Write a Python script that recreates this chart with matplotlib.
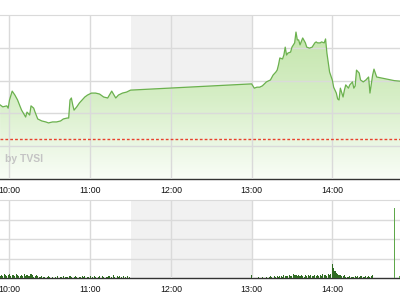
import matplotlib.pyplot as plt
import numpy as np
from matplotlib.colors import LinearSegmentedColormap

plt.rcParams['font.family'] = ['Liberation Sans', 'DejaVu Sans']

# gia chi so theo thoi gian (doc tu hinh)
price_times = ["09:53", "09:55", "09:58", "09:59", "10:00", "10:02", "10:04", "10:06",
               "10:08", "10:09", "10:12", "10:13", "10:15", "10:16", "10:18", "10:19",
               "10:21", "10:24", "10:27", "10:29", "10:32", "10:35", "10:38", "10:40",
               "10:43", "10:44", "10:45", "10:46", "10:47", "10:48", "10:50", "10:52",
               "10:54", "10:56", "10:58", "11:01", "11:04", "11:07", "11:10", "11:13",
               "11:16", "11:19", "11:21", "11:24", "11:27", "11:30",
               "13:00", "13:02", "13:04", "13:06", "13:08", "13:11", "13:14", "13:16",
               "13:18", "13:19", "13:20", "13:21", "13:23", "13:24", "13:25", "13:26",
               "13:27", "13:29", "13:30", "13:32", "13:33", "13:34", "13:35", "13:36",
               "13:38", "13:40", "13:41", "13:43", "13:45", "13:47", "13:48", "13:49",
               "13:51", "13:52", "13:54", "13:55", "13:56", "13:58", "14:00", "14:01",
               "14:03", "14:04", "14:05", "14:06", "14:08", "14:09", "14:10", "14:12",
               "14:13", "14:15", "14:16", "14:17", "14:18", "14:20", "14:21", "14:23",
               "14:25", "14:27", "14:28", "14:30", "14:31", "14:33", "14:46", "14:51"]
price_values = [582.26, 582.20, 582.23, 582.16, 582.41, 582.68, 582.56, 582.41,
                582.20, 582.10, 581.89, 582.04, 581.95, 582.23, 582.16, 582.04,
                581.83, 581.77, 581.74, 581.71, 581.74, 581.74, 581.77, 581.83,
                581.86, 581.86, 582.41, 582.47, 582.26, 582.10, 582.20, 582.32,
                582.41, 582.50, 582.56, 582.62, 582.62, 582.59, 582.50, 582.47,
                582.68, 582.47, 582.56, 582.62, 582.65, 582.71,
                582.90, 582.77, 582.80, 582.80, 582.84, 582.96, 583.02, 583.17,
                583.26, 583.32, 583.48, 583.69, 583.66, 583.78, 584.02, 583.78,
                583.84, 583.87, 584.02, 584.15, 584.48, 584.24, 584.24, 584.09,
                584.30, 584.15, 584.02, 583.99, 584.02, 584.15, 584.18, 584.15,
                584.15, 584.18, 584.15, 584.27, 583.84, 583.26, 583.02, 582.80,
                582.62, 582.44, 582.41, 582.77, 582.50, 582.71, 582.87, 582.77,
                582.87, 582.96, 582.77, 582.84, 583.32, 583.23, 583.02, 582.96,
                583.02, 583.11, 582.62, 583.17, 583.35, 583.11, 583.00, 582.98]
ref_price = 581.22

# khoi luong (nghin cp) moi phut
vol_am_start = "09:53"
vol_am = [50, 75, 50, 100, 75, 50, 75, 100, 50, 75,
          75, 50, 100, 75, 50, 50, 75, 50, 100, 50,
          75, 50, 50, 100, 75, 25, 50, 75, 50, 25,
          25, 50, 25, 25, 12, 25, 50, 25, 12, 25,
          12, 25, 12, 50, 12, 25, 25, 50, 12, 25,
          25, 12, 50, 25, 12, 25, 50, 25, 12, 25,
          25, 50, 25, 50, 12, 25, 25, 50, 12, 25,
          50, 25, 12, 25, 50, 12, 50, 25, 12, 25,
          25, 50, 12, 25, 75, 25, 12, 50, 25, 50,
          25, 12, 50, 25, 12, 50, 25]
vol_pm_start = "13:00"
vol_pm = [75, 12, 12, 12, 12, 25, 12, 12, 25, 12, 12,
          25, 12, 25, 50, 25, 12, 50, 25, 50, 25,
          50, 50, 25, 75, 50, 50, 50, 75, 50, 50,
          100, 75, 75, 50, 75, 50, 75, 50, 25, 75,
          50, 75, 50, 75, 50, 50, 75, 50, 75, 50,
          75, 50, 100, 75, 75, 50, 100, 75, 100,
          360, 250, 175, 125, 100, 75, 75, 50, 50, 75, 25,
          25, 25, 50, 25, 25, 25, 50, 25, 50, 25,
          50, 50, 25, 25, 50, 25, 50, 25, 50, 75]
atc_times = ["14:46", "14:50"]
atc_vols = [1800, 50]

ticks = ["10:00", "11:00", "12:00", "13:00", "14:00"]


def to_h(s):
    h, m = s.split(":")
    return int(h) + int(m) / 60.0


t = np.array([to_h(s) for s in price_times])
p = np.array(price_values)
xmin, xmax = to_h("09:53") - 0.06 / 60, 14.839
tick_pos = [to_h(s) for s in ticks]

fig = plt.figure(figsize=(4, 3), dpi=100)
ax = fig.add_axes([0, 0.4033, 1, 0.5467])
ax2 = fig.add_axes([0, 0.0733, 1, 0.26])

grid_c = '#dadada'
for a in (ax, ax2):
    a.set_xlim(xmin, xmax)
    a.axvspan(11.5, 13.0, color='#f1f1f1', zorder=0, lw=0)
    a.set_xticks(tick_pos)
    a.set_xticklabels(ticks)
    a.tick_params(axis='x', length=0, pad=5, labelsize=6.3, labelcolor='#111111')
    a.tick_params(axis='y', length=0, labelleft=False)
    for s in ('left', 'right'):
        a.spines[s].set_visible(False)
    a.spines['top'].set_color(grid_c)
    a.spines['bottom'].set_color('#333333')
    a.spines['bottom'].set_linewidth(1.0)
    a.set_axisbelow(False)
    a.grid(True, color=grid_c, lw=1.0, zorder=2)

# bieu do gia
ax.set_ylim(580, 585)
ax.set_yticks([581, 582, 583, 584])
poly = ax.fill_between(t, p, 580, color='none', lw=0)
cmap = LinearSegmentedColormap.from_list('g', ['#f9fdf7', '#d6eec6', '#bfe3a5'])
grad = np.linspace(0, 1, 256).reshape(-1, 1)
im = ax.imshow(grad, extent=[xmin, xmax, 580, 585], aspect='auto', cmap=cmap,
               origin='lower', zorder=1)
im.set_clip_path(poly.get_paths()[0], transform=ax.transData)
ax.plot(t, p, color='#6bb14e', lw=0.9, zorder=3)
ax.axhline(ref_price, color='#e8412c', lw=1.0, ls=(0, (2.0, 1.5)), zorder=3)
ax.text(to_h("09:57"), 580.62, "by TVSI", ha='left', va='center',
        fontsize=7.5, color='#c4c4c4', fontweight='bold', zorder=4)

# bieu do khoi luong
t_am = to_h(vol_am_start) + np.arange(len(vol_am)) / 60.0
t_pm = to_h(vol_pm_start) + np.arange(len(vol_pm)) / 60.0
ax2.set_ylim(0, 2000)
ax2.set_yticks([500, 1000, 1500])
ax2.bar(t_am, vol_am, width=0.8 / 60, color='#2f6b22', lw=0, zorder=3)
ax2.bar(t_pm, vol_pm, width=0.8 / 60, color='#2f6b22', lw=0, zorder=3)
ax2.bar([to_h(s) for s in atc_times], atc_vols, width=0.7 / 60, color='#5fa84a',
        lw=0, zorder=3)

fig.savefig("out.png", dpi=100)
